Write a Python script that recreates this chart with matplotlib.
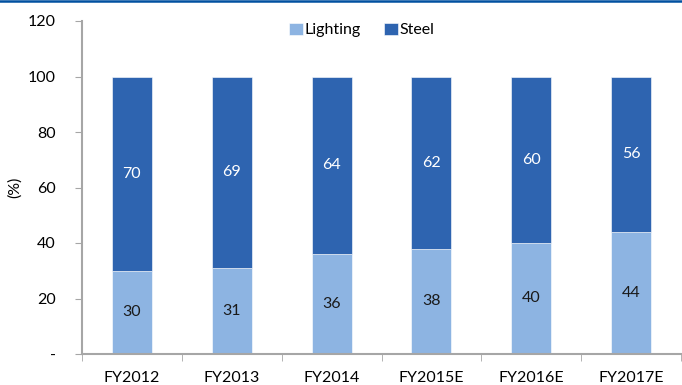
import matplotlib
matplotlib.use("Agg")
import matplotlib.pyplot as plt
from matplotlib.lines import Line2D
import numpy as np

categories = ["FY2012", "FY2013", "FY2014", "FY2015E", "FY2016E", "FY2017E"]
lighting = [30, 31, 36, 38, 40, 44]
steel = [70, 69, 64, 62, 60, 56]
yticks = [0, 20, 40, 60, 80, 100, 120]
ytick_labels = ["-", "20", "40", "60", "80", "100", "120"]

plt.rcParams['font.family'] = ['Lato', 'DejaVu Sans']

c_light = "#8DB4E2"
c_dark = "#2E64B0"
fs = 11.5

fig = plt.figure(figsize=(6.82, 3.85), dpi=100)
ax = fig.add_axes([82/682, 31/385, 599/682, 333/385])

x = np.arange(len(categories))
ax.bar(x, lighting, width=0.4, color=c_light, label="Lighting", edgecolor="white", linewidth=0.4)
ax.bar(x, steel, width=0.4, bottom=lighting, color=c_dark, label="Steel", edgecolor="white", linewidth=0.4)

for i in range(len(x)):
    ax.text(x[i], lighting[i] / 2, str(lighting[i]), ha="center", va="center", fontsize=fs, color="#1a1a1a")
    ax.text(x[i], lighting[i] + steel[i] / 2, str(steel[i]), ha="center", va="center", fontsize=fs, color="white")

ax.set_xlim(-0.5, len(x) - 0.5)
ax.set_ylim(0, 120)
ax.set_yticks(yticks)
ax.set_yticklabels(ytick_labels, fontsize=fs)
ax.set_xticks(x)
ax.set_xticklabels(categories, fontsize=fs)
ax.set_xticks(np.arange(len(x) + 1) - 0.5, minor=True)
ax.tick_params(axis="x", which="major", length=0, pad=12)
ax.tick_params(axis="x", which="minor", length=5, color="#A6A6A6", direction="out")
ax.tick_params(axis="y", length=5, color="#A6A6A6", pad=14)
for s in ["top", "right"]:
    ax.spines[s].set_visible(False)
for s in ["left", "bottom"]:
    ax.spines[s].set_color("#A6A6A6")
    ax.spines[s].set_linewidth(1.5)
ax.set_ylabel("(%)", fontsize=fs, labelpad=4)

ax.legend(loc="center", bbox_to_anchor=(0.467, 1 - 9/333), ncol=2, frameon=False, fontsize=fs,
          handlelength=0.85, handleheight=0.85, handletextpad=0.1, columnspacing=1.5)

fig.add_artist(Line2D([0, 1], [1 - 1.2/385, 1 - 1.2/385], color="#0050A0", linewidth=1.8, transform=fig.transFigure))

fig.savefig("out.png", dpi=100)
